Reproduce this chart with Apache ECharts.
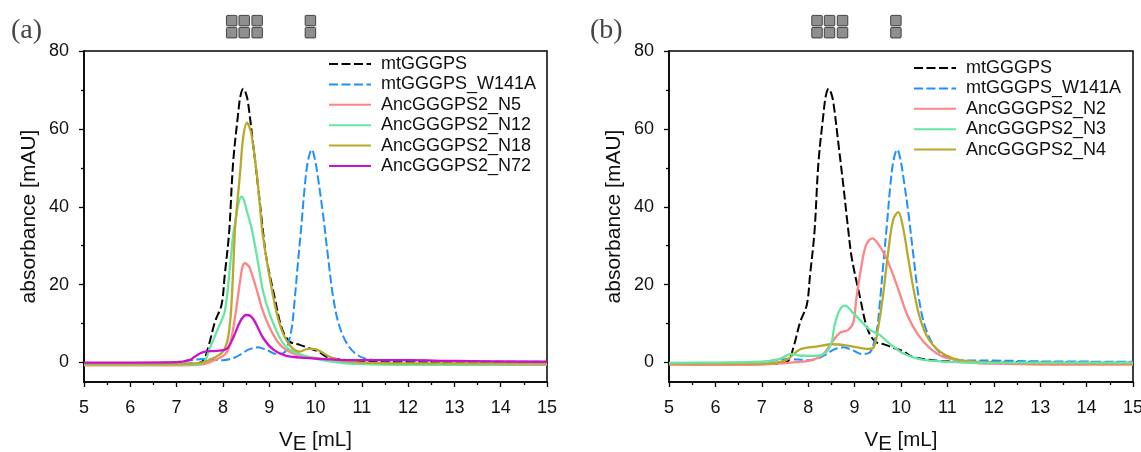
<!DOCTYPE html>
<html><head><meta charset="utf-8">
<style>html,body{margin:0;padding:0;background:#fff}#c{width:1141px;height:452px}</style>
<script src="https://cdn.jsdelivr.net/npm/echarts@6/dist/echarts.min.js"></script>
</head><body><div id="c"></div>
<script>
const mtGGGPS = [[5,-0.4],[6,-0.4],[7,-0.3],[7.4,-0.2],[7.57,0.4],[7.68,3.8],[7.83,10.5],[7.97,14.8],[8.04,22.5],[8.135,33.5],[8.22,51.2],[8.33,64],[8.38,68.5],[8.44,70.3],[8.5,69],[8.545,66.6],[8.65,56.3],[8.76,45.2],[8.855,34.9],[8.94,26.8],[9.12,16.6],[9.27,8.9],[9.44,5.4],[9.65,4.6],[9.88,3.6],[10.05,2.9],[10.24,1.5],[10.6,0.7],[11,0.3],[12,0.2],[13,0.1],[15,0]];
const mtGGGPS_W141A = [[5,-0.4],[6,-0.3],[7,0.1],[7.3,0.6],[7.57,0.9],[8,0.6],[8.26,1.3],[8.4,2.2],[8.55,3.3],[8.76,3.9],[8.95,3.2],[9.16,2.2],[9.3,2.4],[9.37,3.3],[9.48,8.4],[9.55,16.1],[9.62,25.5],[9.7,35.8],[9.77,45.5],[9.84,52],[9.92,54.7],[9.99,52],[10.06,46.9],[10.16,38.3],[10.27,27.2],[10.38,16.9],[10.52,9.2],[10.74,3.8],[11.03,1.2],[11.5,0.5],[12,0.5],[13,0.3],[15,0.2]];
const AncN5 = [[5,-0.7],[6,-0.7],[7,-0.7],[7.5,-0.6],[7.72,0.1],[8.04,2],[8.15,4.5],[8.26,11.5],[8.37,20.8],[8.42,24.4],[8.47,25.5],[8.52,25.2],[8.58,24.3],[8.73,18.7],[8.87,13],[9.09,7.1],[9.3,3.8],[9.59,2],[10,1.2],[10.5,0.3],[11,-0.2],[12,-0.5],[15,-0.6]];
const AncN12 = [[5,-0.5],[6,-0.5],[7,-0.5],[7.3,-0.5],[7.57,-0.1],[7.72,3.8],[7.9,8.9],[8.04,13.1],[8.15,24.3],[8.22,32.8],[8.26,35.5],[8.33,40.5],[8.4,42.6],[8.46,41.5],[8.51,39.2],[8.62,34.5],[8.73,27.6],[8.87,18.2],[9.02,12.2],[9.23,6.3],[9.44,3.3],[10,1],[10.5,0],[11,-0.4],[12,-0.6],[15,-0.4]];
const AncN18 = [[5,-0.4],[6,-0.4],[7,-0.4],[7.5,-0.1],[7.72,0.7],[8,2.8],[8.11,6.3],[8.18,14],[8.26,34],[8.29,38.3],[8.37,48.6],[8.44,58],[8.52,61.6],[8.57,60.5],[8.62,58.4],[8.73,48.7],[8.84,34.9],[8.87,32],[9.05,19.2],[9.23,9.7],[9.44,4.5],[9.66,2.8],[9.84,3.5],[9.95,3.5],[10.09,3],[10.3,1.5],[10.6,0.5],[11,0],[12,-0.2],[15,-0.2]];
const AncN72 = [[5,0],[6,0],[7,0.1],[7.29,0.7],[7.39,1.5],[7.57,2.7],[7.86,3],[8.08,3.5],[8.22,6.3],[8.37,10.5],[8.46,12],[8.52,12.2],[8.6,11.9],[8.69,10.5],[8.87,6.3],[9.09,3.3],[9.37,1.7],[9.8,1.2],[10.5,0.7],[11,0.6],[12,0.6],[13,0.4],[15,0.2]];
const AncN2 = [[5,-0.5],[6,-0.6],[7,-0.5],[7.74,0.1],[8.1,0.7],[8.31,2],[8.5,5],[8.68,7.6],[8.86,8.4],[8.97,10.2],[9.04,16.6],[9.15,25],[9.25,30.2],[9.38,31.9],[9.5,30.6],[9.65,27.6],[9.79,23.8],[9.97,17.8],[10.15,11.8],[10.37,7.1],[10.62,3.7],[10.9,1.5],[11.2,0.7],[11.5,0],[12,-0.3],[13,-0.5],[15,-0.5]];
const AncN3 = [[5,-0.1],[6,0],[7,0.2],[7.38,0.9],[7.64,2.2],[7.82,1.8],[8.1,1.7],[8.36,2.4],[8.5,5],[8.57,9.7],[8.68,13.5],[8.79,14.6],[8.97,12.7],[9.18,10.1],[9.33,8.4],[9.54,7.1],[9.76,4.8],[10.04,2.4],[10.4,0.9],[10.76,0.4],[11.5,0],[13,0],[15,0]];
const AncN4 = [[5,-0.3],[6,-0.3],[7,-0.3],[7.38,0.1],[7.56,0.9],[7.71,2.4],[7.85,3.5],[8.18,4.1],[8.53,4.7],[8.97,4.1],[9.29,3.5],[9.4,3.7],[9.5,8.4],[9.61,16.9],[9.72,28],[9.83,36.6],[9.94,38.6],[10.04,34.9],[10.15,27.2],[10.26,19.5],[10.4,11.8],[10.58,6.3],[10.84,2.8],[11.12,1.1],[11.5,0.3],[12,0],[13,-0.2],[15,-0.2]];
const xRange = [5, 15];
const yRange = [-5, 80];
const yMajorTicks = [0, 20, 40, 60, 80];
const yMinorTicks = [10, 30, 50, 70];
const squaresX = [8.19, 8.46, 8.74, 9.89];
const squaresY = [87.8, 84.7];
const legendA = ['mtGGGPS','mtGGGPS_W141A','AncGGGPS2_N5','AncGGGPS2_N12','AncGGGPS2_N18','AncGGGPS2_N72'];
const legendB = ['mtGGGPS','mtGGGPS_W141A','AncGGGPS2_N2','AncGGGPS2_N3','AncGGGPS2_N4'];

const BLACK='#000', BLUE='#1e90ff', PINK='#ff8585', GREEN='#66e6a2', GOLD='#b8a82c', MAG='#cc10cc';
const FONT='"Liberation Sans", Arial, sans-serif';
function line(name,data,color,idx,dash){
  return {type:'line',name,data,xAxisIndex:idx,yAxisIndex:idx*2,showSymbol:false,symbol:'none',
    smooth:0.35,lineStyle:{color,width:dash?2:2.3,type:dash?[9,3.5]:'solid',cap:'butt'},itemStyle:{color},z:3,silent:true};
}
function squares(idx){
  const d=[]; squaresX.forEach(x=>squaresY.forEach(y=>d.push([x,y])));
  return {type:'scatter',data:d,xAxisIndex:idx,yAxisIndex:idx*2,clip:false,
    symbol:'path://M1 0H9Q10 0 10 1V9Q10 10 9 10H1Q0 10 0 9V1Q0 0 1 0Z',symbolSize:10.5,
    itemStyle:{color:'#737373',borderColor:'#222',borderWidth:1},silent:true,z:5};
}
function xA(i){return {type:'value',gridIndex:i,min:xRange[0],max:xRange[1],interval:1,
  axisLine:{show:true,onZero:false,lineStyle:{color:'#000',width:1.5}},
  axisTick:{show:true,length:5,lineStyle:{color:'#000',width:1.3}},
  minorTick:{show:true,splitNumber:2,length:3,lineStyle:{color:'#000',width:1.3}},
  splitLine:{show:false},minorSplitLine:{show:false},
  axisLabel:{color:'#111',fontSize:18,fontFamily:FONT,margin:17,showMinLabel:true,showMaxLabel:true},
  name:'V{e|E} [mL]',nameLocation:'middle',nameGap:43,
  nameTextStyle:{color:'#111',fontSize:20.5,fontFamily:FONT,rich:{e:{fontSize:20.5,fontFamily:FONT,color:'#111',padding:[9,0,0,0]}}}};}
function yA(i){return [{type:'value',gridIndex:i,min:yRange[0],max:yRange[1],
  axisLine:{show:true,onZero:false,lineStyle:{color:'#000',width:1.5}},
  axisTick:{show:true,length:5,customValues:yMajorTicks,lineStyle:{color:'#000',width:1.3}},
  splitLine:{show:false},
  axisLabel:{color:'#111',fontSize:18,fontFamily:FONT,margin:15,padding:[3,0,0,0],customValues:yMajorTicks},
  name:'absorbance [mAU]',nameLocation:'middle',nameGap:44,nameRotate:90,
  nameTextStyle:{color:'#111',fontSize:21,fontFamily:FONT}},
 {type:'value',gridIndex:i,position:'left',min:yRange[0],max:yRange[1],
  axisLine:{show:false},axisTick:{show:true,length:3,customValues:yMinorTicks,lineStyle:{color:'#000',width:1.3}},
  splitLine:{show:false},axisLabel:{show:false}}];}
function leg(i,data,left,top){return {data,left,top,orient:'vertical',padding:0,itemWidth:42,itemHeight:10,itemGap:2.4,selectedMode:false,
  itemStyle:{opacity:0},
  textStyle:{color:'#111',fontSize:18,fontFamily:FONT,padding:[0,0,0,5]}};}

const chart=echarts.init(document.getElementById('c'),null,{renderer:'canvas'});
chart.setOption({animation:false,backgroundColor:'#fff',
 grid:[{left:84,top:51,width:463,height:331,outerBoundsMode:'none',show:true,borderColor:'#000',borderWidth:1.5,backgroundColor:'transparent'},
       {left:669,top:51,width:464,height:331,outerBoundsMode:'none',show:true,borderColor:'#000',borderWidth:1.5,backgroundColor:'transparent'}],
 xAxis:[xA(0),xA(1)],
 yAxis:[...yA(0),...yA(1)],
 legend:[leg(0,legendA,328,55),leg(1,legendB,913,59)],
 graphic:[
  {type:'text',left:11,top:17,style:{text:'(a)',font:'28px "Liberation Serif", serif',fill:'#444'}},
  {type:'text',left:590,top:17,style:{text:'(b)',font:'28px "Liberation Serif", serif',fill:'#444'}}
 ],
 series:[
  squares(0),squares(1),
  line('mtGGGPS',mtGGGPS,BLACK,0,true),
  line('mtGGGPS_W141A',mtGGGPS_W141A,BLUE,0,true),
  line('AncGGGPS2_N5',AncN5,PINK,0),
  line('AncGGGPS2_N12',AncN12,GREEN,0),
  line('AncGGGPS2_N18',AncN18,GOLD,0),
  line('AncGGGPS2_N72',AncN72,MAG,0),
  line('mtGGGPS',mtGGGPS,BLACK,1,true),
  line('mtGGGPS_W141A',mtGGGPS_W141A,BLUE,1,true),
  line('AncGGGPS2_N2',AncN2,PINK,1),
  line('AncGGGPS2_N4',AncN4,GOLD,1),
  line('AncGGGPS2_N3',AncN3,GREEN,1)
 ]
});
</script></body></html>
